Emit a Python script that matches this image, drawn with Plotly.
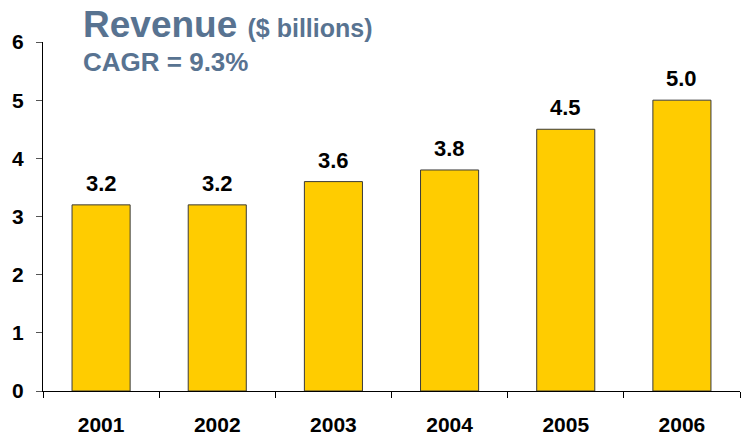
import plotly.graph_objects as go

# Annual revenue, $ billions
years = ["2001", "2002", "2003", "2004", "2005", "2006"]
revenue = [3.2, 3.2, 3.6, 3.8, 4.5, 5.0]
value_labels = ["3.2", "3.2", "3.6", "3.8", "4.5", "5.0"]
y_ticks = [0, 1, 2, 3, 4, 5, 6]

TITLE_COLOR = "#587391"
BAR_COLOR = "#FFCC00"
FONT = "Arial, Liberation Sans, sans-serif"

fig = go.Figure()
fig.add_trace(go.Bar(
    x=years,
    y=revenue,
    width=0.5,
    marker=dict(color=BAR_COLOR, line=dict(color="#3a3a3a", width=1)),
    hoverinfo="skip",
))

# value labels above each bar (category index positions)
for i, (v, lab) in enumerate(zip(revenue, value_labels)):
    fig.add_annotation(
        x=i, y=v, text=f"<b>{lab}</b>", showarrow=False,
        yanchor="bottom", yshift=7,
        font=dict(family=FONT, size=22, color="#000000"),
    )

# chart heading
fig.add_annotation(
    xref="paper", yref="paper", x=0.054, y=1.049, xanchor="left", yanchor="middle",
    text="<b>Revenue</b> <span style='font-size:25px'><b>($ billions)</b></span>",
    showarrow=False, font=dict(family=FONT, size=37, color=TITLE_COLOR),
)
fig.add_annotation(
    xref="paper", yref="paper", x=0.054, y=0.943, xanchor="left", yanchor="middle",
    text="<b>CAGR = 9.3%</b>",
    showarrow=False, font=dict(family=FONT, size=26, color=TITLE_COLOR),
)

fig.update_layout(
    width=742, height=435,
    margin=dict(l=43, r=2, t=42, b=44),
    paper_bgcolor="white", plot_bgcolor="white",
    showlegend=False,
    font=dict(family=FONT, color="#000000"),
)
fig.update_xaxes(
    type="category",
    range=[-0.5, 5.5],
    tickvals=years,
    ticktext=[f"<b>{y}</b>" for y in years],
    showline=True, linecolor="#000000", linewidth=1,
    ticks="outside", tickson="boundaries", ticklen=6, tickcolor="#000000",
    tickfont=dict(family=FONT, size=21, color="#000000"),
    ticklabelstandoff=15,
    automargin=False,
    showgrid=False, zeroline=False,
)
fig.update_yaxes(
    range=[0, 6],
    tickvals=y_ticks,
    ticktext=[f"<b>{t}</b>" for t in y_ticks],
    showline=True, linecolor="#000000", linewidth=1,
    ticks="outside", ticklen=6, tickcolor="#555555",
    tickfont=dict(family=FONT, size=21, color="#000000"),
    ticklabelstandoff=8,
    automargin=False,
    showgrid=False, zeroline=False,
)

fig.write_html("out.html")
